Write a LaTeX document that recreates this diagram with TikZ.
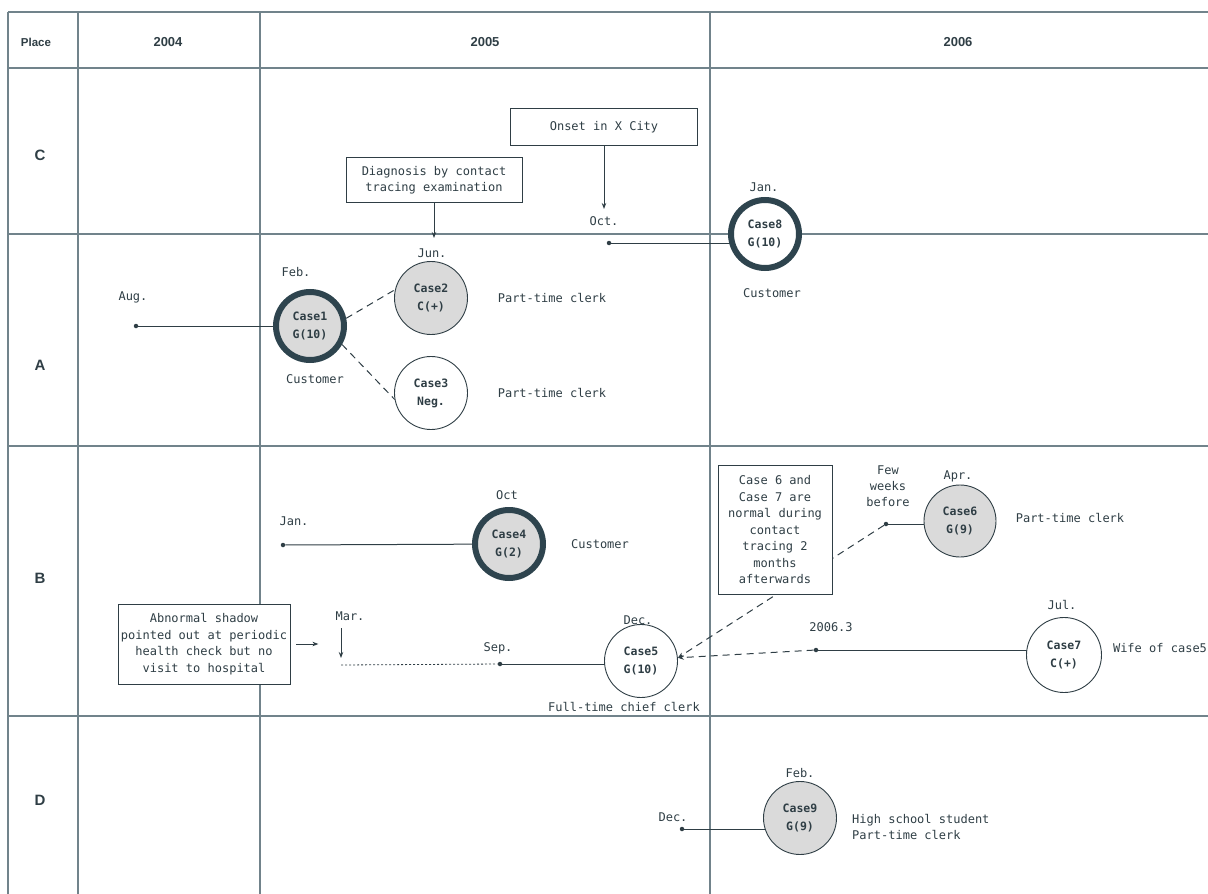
\documentclass[tikz,border=0pt]{standalone}
\usepackage{fontspec}
\setmainfont{DejaVu Sans Mono}
\newfontfamily\hdrfont{Liberation Sans}
\usetikzlibrary{arrows.meta}
\definecolor{ink}{HTML}{2F3E45}
\definecolor{gridc}{HTML}{71838B}
\definecolor{thickc}{HTML}{2E444E}
\definecolor{fillg}{HTML}{DADADA}
\pgfdeclarelayer{bg}
\pgfsetlayers{bg,main}
\begin{document}
\begin{tikzpicture}[x=1pt,y=-1pt,
  every node/.style={text=ink},
  lbl/.style={font=\fontsize{12}{16}\selectfont, inner sep=0pt, align=center},
  hdr/.style={font=\hdrfont\bfseries\fontsize{13}{15}\selectfont, inner sep=0pt},
  place/.style={font=\hdrfont\bfseries\fontsize{15}{17}\selectfont, inner sep=0pt},
  casec/.style={circle, draw=ink, line width=0.9pt, minimum size=73pt, inner sep=0pt, align=center,
     font=\bfseries\fontsize{11.5}{18}\selectfont},
  thickcase/.style={casec, draw=thickc, line width=6pt, minimum size=68pt},
  grayf/.style={fill=fillg},
  whitef/.style={fill=white},
  notebox/.style={draw=ink, line width=0.8pt, fill=white, align=center, inner sep=2pt,
     font=\fontsize{12}{16.5}\selectfont},
  dotn/.style={circle, fill=ink, inner sep=0pt, minimum size=4.5pt},
  conn/.style={draw=ink, line width=1pt},
  dsh/.style={conn, dash pattern=on 7pt off 5pt},
  tip/.style={-{Stealth[length=6pt,width=4.5pt]}},
  gridl/.style={draw=gridc, line width=1.2pt}]
\useasboundingbox (0,0) rectangle (1208,894);

% headers
\node[hdr, font=\hdrfont\bfseries\fontsize{11.5}{14}\selectfont] (hplace) at (36,42) {Place};
\node[hdr] (h2004) at (168,42) {2004};
\node[hdr] (h2005) at (485,42) {2005};
\node[hdr] (h2006) at (958,42) {2006};
\node[place] (pc) at (40,155) {C};
\node[place] (pa) at (40,365) {A};
\node[place] (pb) at (40,578) {B};
\node[place] (pd) at (40,800) {D};

% region C
\node[notebox, minimum width=187pt, minimum height=37pt] (onset) at (604,127) {Onset in X City};
\node[notebox, minimum width=176pt, minimum height=45pt] (diag) at (434,180) {Diagnosis by contact\\tracing examination};
\coordinate (octtip) at (604,209);
\coordinate (juntip) at (434,238);
\node[lbl] (octl) at (604,221) {Oct.};
\node[dotn] (octdot) at (609,243) {};
\node[thickcase, whitef] (c8) at (765,234) {Case8\\G(10)};
\node[lbl] (c8m) at (764,187) {Jan.};
\node[lbl] (c8r) at (772,293) {Customer};

% region A
\node[lbl] (junl) at (432,253) {Jun.};
\node[thickcase, grayf] (c1) at (310,326) {Case1\\G(10)};
\node[lbl] (c1m) at (296,272) {Feb.};
\node[lbl] (c1r) at (315,379) {Customer};
\node[lbl] (augl) at (133,297) {Aug.};
\node[dotn] (augdot) at (136,326) {};
\node[casec, grayf] (c2) at (431,298) {Case2\\C(+)};
\node[lbl] (c2r) at (552,298) {Part-time clerk};
\node[casec, whitef] (c3) at (431,393) {Case3\\Neg.};
\node[lbl] (c3r) at (552,393) {Part-time clerk};

% region B
\node[thickcase, grayf] (c4) at (509,544) {Case4\\G(2)};
\node[lbl] (c4m) at (507,495) {Oct};
\node[lbl] (janl) at (294,521) {Jan.};
\node[dotn] (jandot) at (283,545) {};
\node[lbl] (c4r) at (600,544) {Customer};
\node[notebox, minimum width=172pt, minimum height=80pt, inner xsep=1pt] (abn) at (204,644)
  {Abnormal shadow\\pointed out at periodic\\health check but no\\visit to hospital};
\node[lbl] (marl) at (350,616) {Mar.};
\coordinate (martop) at (341,628);
\coordinate (marbot) at (341,658);
\coordinate (dotstart) at (341,665);
\node[dotn] (sepdot) at (500,664) {};
\node[lbl] (sepl) at (498,648) {Sep.};
\node[casec, whitef] (c5) at (641,661) {Case5\\G(10)};
\node[lbl] (c5m) at (638,620) {Dec.};
\node[lbl] (c5r) at (624,707) {Full-time chief clerk};
\node[notebox, minimum width=114pt, minimum height=129pt, inner xsep=1pt] (note) at (775,530)
  {Case 6 and\\Case 7 are\\normal during\\contact\\tracing 2\\months\\afterwards};
\node[lbl] (fewl) at (888,486) {Few\\weeks\\before};
\node[dotn] (fewdot) at (886,524) {};
\node[casec, grayf, minimum size=72pt] (c6) at (960,521) {Case6\\G(9)};
\node[lbl] (c6m) at (958,476) {Apr.};
\node[lbl] (c6r) at (1070,518) {Part-time clerk};
\node[dotn] (d2006) at (816,650) {};
\node[lbl] (d2006l) at (831,627) {2006.3};
\node[casec, whitef, minimum size=75pt] (c7) at (1064,655) {Case7\\C(+)};
\node[lbl] (c7m) at (1062,605) {Jul.};
\node[lbl] (c7r) at (1160,648) {Wife of case5};

% region D
\node[casec, grayf] (c9) at (800,818) {Case9\\G(9)};
\node[lbl] (c9m) at (800,773) {Feb.};
\node[lbl] (decl) at (673,817) {Dec.};
\node[dotn] (decdot) at (682,829) {};
\node[lbl, align=left, anchor=west] (c9r) at (852,827) {High school student\\Part-time clerk};

\begin{pgfonlayer}{bg}
  % table grid
  \draw[gridl] (8,12) -- (1208,12);
  \draw[gridl] (8,68) -- (1208,68);
  \draw[gridl] (8,234) -- (1208,234);
  \draw[gridl] (8,446) -- (1208,446);
  \draw[gridl] (8,716) -- (1208,716);
  \draw[gridl] (8,12) -- (8,894);
  \draw[gridl] (78,12) -- (78,894);
  \draw[gridl] (260,12) -- (260,894);
  \draw[gridl] (710,12) -- (710,894);
  % connectors
  \draw[conn, tip] (onset.south) -- (octtip);
  \draw[conn, tip] (diag.south) -- (juntip);
  \draw[conn] (octdot) -- (c8 |- octdot);
  \draw[conn] (augdot) -- (c1);
  \draw[dsh] (c1.12) -- (c2.167);
  \draw[dsh] (c1.-30) -- (c3.190);
  \draw[conn] (jandot) -- (c4);
  \draw[conn, tip] ([xshift=6pt]abn.east) -- ([xshift=28pt]abn.east);
  \draw[conn, tip] (martop) -- (marbot);
  \draw[draw=ink, line width=0.8pt, dash pattern=on 2pt off 2pt] (dotstart) -- (sepdot);
  \draw[conn] (sepdot) -- (c5 |- sepdot);
  \draw[dsh, tip] (fewdot) -- (c5.5);
  \draw[dsh, tip] (d2006) -- (c5.5);
  \draw[conn] (fewdot) -- (c6 |- fewdot);
  \draw[conn] (d2006) -- (c7 |- d2006);
  \draw[conn] (decdot) -- (c9 |- decdot);
\end{pgfonlayer}
\end{tikzpicture}
\end{document}
